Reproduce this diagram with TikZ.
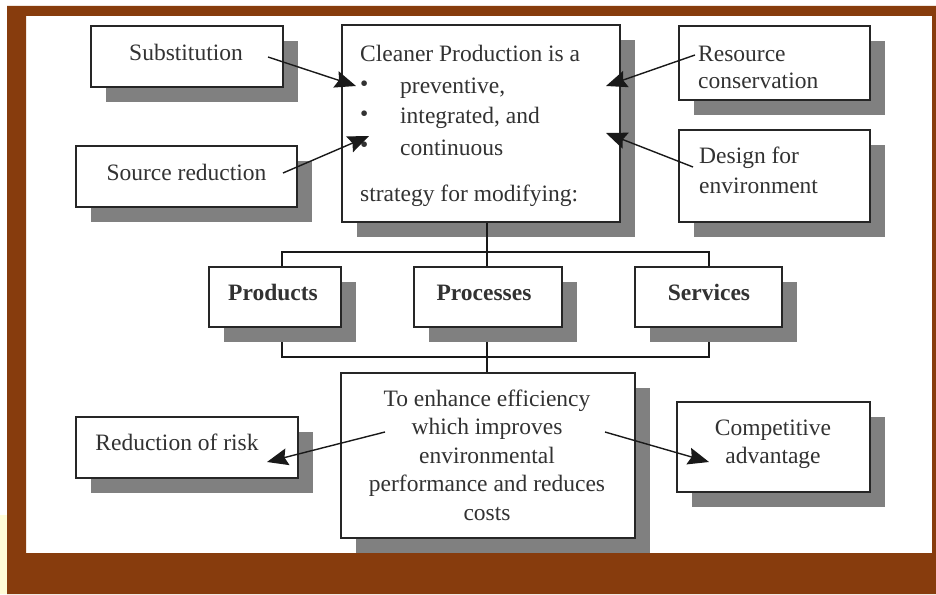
\documentclass[tikz,border=0pt]{standalone}
\usepackage{fontspec}
\setmainfont{Liberation Serif}
\usetikzlibrary{arrows.meta,shadows}
\definecolor{framebrown}{RGB}{135,60,13}
\definecolor{shadowgray}{RGB}{128,128,128}
\definecolor{ink}{RGB}{50,50,50}
\definecolor{paleyellow}{RGB}{255,252,215}
\begin{document}
\begin{tikzpicture}[x=1pt,y=-1pt,
  box/.style={draw=black!85, line width=1.5pt, fill=white, inner sep=0pt,
    general shadow={fill=shadowgray, shadow xshift=15pt, shadow yshift=-15pt}},
  txt/.style={inner sep=0pt, text=ink, font=\fontsize{23.5}{28.5}\selectfont},
  bold/.style={txt, font=\fontsize{23.5}{28.5}\bfseries\selectfont},
  conn/.style={draw=black!90, line width=1.4pt},
  arr/.style={conn, -{Stealth[length=21pt,width=17pt,inset=3pt]}}]
\useasboundingbox (0,0) rectangle (936,594);
\fill[white] (0,0) rectangle (936,594);
\fill[paleyellow] (0,515) rectangle (7,594);

% bus coordinates
\coordinate (mx) at (487,0);
\coordinate (tbL) at (282,252);
\coordinate (tbR) at (709,252);
\coordinate (bbL) at (282,357);
\coordinate (bbR) at (709,357);

% outer boxes
\node[box, minimum width=192pt, minimum height=61pt] (sub) at (187,56.5) {};
\node[box, minimum width=221pt, minimum height=61pt] (src) at (186.5,176.5) {};
\node[box, minimum width=191pt, minimum height=74pt] (res) at (774.5,63) {};
\node[box, minimum width=191pt, minimum height=92pt] (des) at (774.5,176) {};
\node[box, minimum width=222pt, minimum height=61pt] (risk) at (187,447.5) {};
\node[box, minimum width=193pt, minimum height=90pt] (comp) at (773.5,447) {};
\node[box, minimum width=278pt, minimum height=197pt] (cp) at (481,123.5) {};

% connector tree (drawn before the boxes whose shadows hide parts of it)
\draw[conn] (mx |- cp.south) -- (mx |- tbL);
\draw[conn] (tbL |- 0,267) -- (tbL) -- (tbR) -- (tbR |- 0,267);
\draw[conn] (mx |- 0,252) -- (mx |- 0,267);
\draw[conn] (bbL |- 0,327) -- (bbL) -- (bbR) -- (bbR |- 0,327);
\draw[conn] (mx |- 0,327) -- (mx |- 0,373);

\node[box, minimum width=132pt, minimum height=60pt] (prod) at (275,297) {};
\node[box, minimum width=148pt, minimum height=60pt] (proc) at (488,297) {};
\node[box, minimum width=147pt, minimum height=60pt] (serv) at (708.5,297) {};
\node[box, minimum width=294pt, minimum height=165pt] (bot) at (488,455.5) {};

% texts
\node[txt, anchor=mid] (tsub) at (186,58) {Substitution};
\node[txt, anchor=mid] (tsrc) at (186.5,178) {Source reduction};
\node[txt, anchor=mid west] (c1) at (360,59) {Cleaner Production is a};
\node[txt, anchor=mid west] (b1) at (360,89) {•};
\node[txt, anchor=mid west] (b2) at (360,119) {•};
\node[txt, anchor=mid west] (b3) at (360,150) {•};
\node[txt, anchor=mid west] (c2) at (400,91) {preventive,};
\node[txt, anchor=mid west] (c3) at (400,121) {integrated, and};
\node[txt, anchor=mid west] (c4) at (400,153) {continuous};
\node[txt, anchor=mid west] (c5) at (360,199) {strategy for modifying:};
\node[txt, anchor=west, align=left, font=\fontsize{23.5}{27}\selectfont] (tres) at (698,67) {Resource\\ conservation};
\node[txt, anchor=west, align=left, font=\fontsize{23.5}{30}\selectfont] (tdes) at (699,170) {Design for\\ environment};
\node[bold, anchor=mid] (tprod) at (273,298) {Products};
\node[bold, anchor=mid] (tproc) at (484,298) {Processes};
\node[bold, anchor=mid] (tserv) at (709,298) {Services};
\node[txt, align=center] (tbot) at (487,455) {To enhance efficiency\\ which improves\\ environmental\\ performance and reduces\\ costs};
\node[txt, anchor=mid] (trisk) at (177,448) {Reduction of risk};
\node[txt, align=center, font=\fontsize{23.5}{28}\selectfont] (tcomp) at (773,444) {Competitive\\ advantage};

% arrows
\coordinate (aSub) at (268,57);   \coordinate (hSub) at (356,86);
\coordinate (aSrc) at (283,173);  \coordinate (hSrc) at (369,136);
\coordinate (aRes) at (695,55);   \coordinate (hRes) at (606,86);
\coordinate (aDes) at (693,167);  \coordinate (hDes) at (606,133);
\coordinate (aL) at (385,432);    \coordinate (hL) at (267,462);
\coordinate (aR) at (605,432);    \coordinate (hR) at (709,462);
\draw[arr] (aSub) -- (hSub);
\draw[arr] (aSrc) -- (hSrc);
\draw[arr] (aRes) -- (hRes);
\draw[arr] (aDes) -- (hDes);
\draw[arr] (aL) -- (hL);
\draw[arr] (aR) -- (hR);

% frame
\fill[framebrown, even odd rule] (7,6) rectangle (936,594) (26,16) rectangle (932,553);
\end{tikzpicture}
\end{document}
